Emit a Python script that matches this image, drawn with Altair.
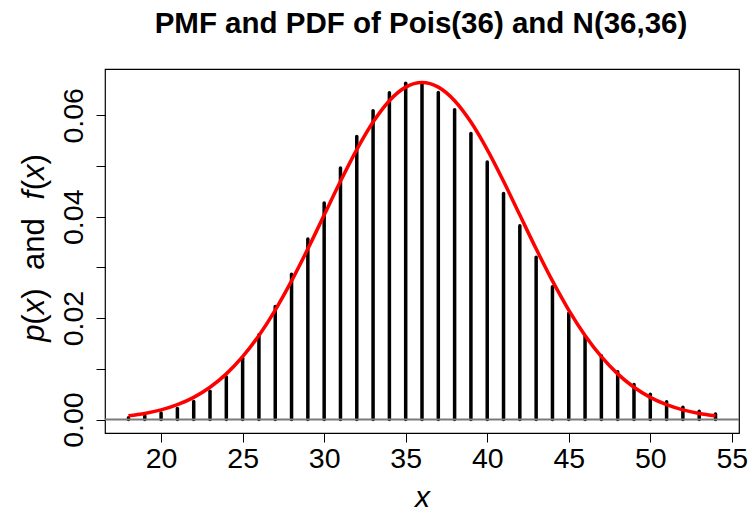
import altair as alt
import pandas as pd

# Poisson(36) probabilities at x = 18..54
x_vals = list(range(18, 55))
pmf = [0.000373, 0.000707, 0.00127, 0.00218, 0.00357, 0.00560, 0.00839,
       0.01208, 0.01673, 0.02231, 0.02868, 0.03561, 0.04273, 0.04962,
       0.05582, 0.06090, 0.06448, 0.06632, 0.06632, 0.06453, 0.06113,
       0.05643, 0.05079, 0.04459, 0.03822, 0.03200, 0.02618, 0.02095,
       0.01639, 0.01256, 0.00942, 0.00692, 0.00498, 0.00352, 0.00244,
       0.00165, 0.00110]
# Normal(36, 36) density at the same x values
pdf = [0.000739, 0.00120, 0.00190, 0.00292, 0.00437, 0.00636, 0.00900,
       0.01239, 0.01658, 0.02159, 0.02734, 0.03367, 0.04033, 0.04699,
       0.05324, 0.05868, 0.06290, 0.06557, 0.06649, 0.06557, 0.06290,
       0.05868, 0.05324, 0.04699, 0.04033, 0.03367, 0.02734, 0.02159,
       0.01658, 0.01239, 0.00900, 0.00636, 0.00437, 0.00292, 0.00190,
       0.00120, 0.000739]

x_ticks = [20, 25, 30, 35, 40, 45, 50, 55]
y_ticks = [0.00, 0.01, 0.02, 0.03, 0.04, 0.05, 0.06]

title_text = "PMF and PDF of Pois(36) and N(36,36)"

df = pd.DataFrame({"x": x_vals, "p": pmf, "f": pdf})

FONT = "Liberation Sans"
TICK_SIZE = 28.5
W, H = 634, 364
x_dom = [16.56, 55.44]
y_dom = [-0.00266, 0.06915]

xs = alt.Scale(domain=x_dom, nice=False, zero=False)
ys = alt.Scale(domain=y_dom, nice=False, zero=False)

x_axis = alt.Axis(values=x_ticks, title="x", titleFontStyle="italic",
                  titleFont=FONT, titleFontSize=30, titleFontWeight="normal",
                  titleBaseline="alphabetic", titleY=73,
                  labelFont=FONT, labelFontSize=TICK_SIZE, labelColor="black",
                  tickSize=9, tickColor="black", labelPadding=2,
                  grid=False, domain=False, labelFlush=False, labelOverlap=False)
y_axis = alt.Axis(values=y_ticks, title=None,
                  labelExpr="round(datum.value*100) % 2 == 0 ? format(datum.value, '.2f') : ''",
                  labelAngle=270, labelAlign="center", labelBaseline="alphabetic",
                  labelFont=FONT, labelFontSize=TICK_SIZE, labelColor="black",
                  tickSize=9, tickColor="black", labelPadding=14,
                  grid=False, domain=False, labelFlush=False, labelOverlap=False)

base = alt.Chart(df)

bars = base.mark_rule(color="black", strokeWidth=3.5, strokeCap="round").encode(
    x=alt.X("x:Q", scale=xs, axis=x_axis),
    y=alt.Y("p:Q", scale=ys, axis=y_axis),
    y2=alt.datum(0),
)

zero_line = alt.Chart(pd.DataFrame({"z": [0]})).mark_rule(
    color="#7a7a7a", strokeWidth=2
).encode(y=alt.Y("z:Q", scale=ys))

curve = base.mark_line(color="#ff0000", strokeWidth=3.5, interpolate="monotone").encode(
    x=alt.X("x:Q", scale=xs),
    y=alt.Y("f:Q", scale=ys),
)

title = alt.Chart(pd.DataFrame({"t": [title_text]})).mark_text(
    font=FONT, fontSize=29.5, fontWeight="bold", align="center",
    baseline="alphabetic", color="black"
).encode(text="t:N", x=alt.value(316), y=alt.value(-36))

# y-axis title built from pieces so that p, f and x can be italic
advance = {"p": 0.556, "(": 0.333, "x": 0.5, ")": 0.333, " ": 0.3,
           "a": 0.556, "n": 0.556, "d": 0.556, "f": 0.3}
pieces = [("p", "italic"), ("(", "normal"), ("x", "italic"), (")", "normal"),
          ("  ", "normal"), ("and", "normal"), ("  ", "normal"),
          ("f", "italic"), ("(", "normal"), ("x", "italic"), (")", "normal")]
YL_SIZE = 31
total = sum(advance[c] for s, _ in pieces for c in s) * YL_SIZE
y_start = 248 - 69 + total / 2
ylab_layers = []
off = 0.0
for s, style in pieces:
    if s.strip():
        ylab_layers.append(
            alt.Chart(pd.DataFrame({"t": [s]})).mark_text(
                font=FONT, fontSize=YL_SIZE, fontStyle=style, angle=270,
                align="left", baseline="alphabetic", color="black"
            ).encode(text="t:N", x=alt.value(44 - 105), y=alt.value(y_start - off))
        )
    off += sum(advance[c] for c in s) * YL_SIZE

chart = alt.layer(bars, zero_line, curve, title, *ylab_layers).properties(
    width=W, height=H,
    autosize=alt.AutoSizeParams(type="none"),
    padding={"left": 105, "top": 69, "right": 12, "bottom": 78},
    background="white",
).configure_view(stroke="black", strokeWidth=1.2)

chart.save("out.html", embed_options={"renderer": "svg", "actions": False})
